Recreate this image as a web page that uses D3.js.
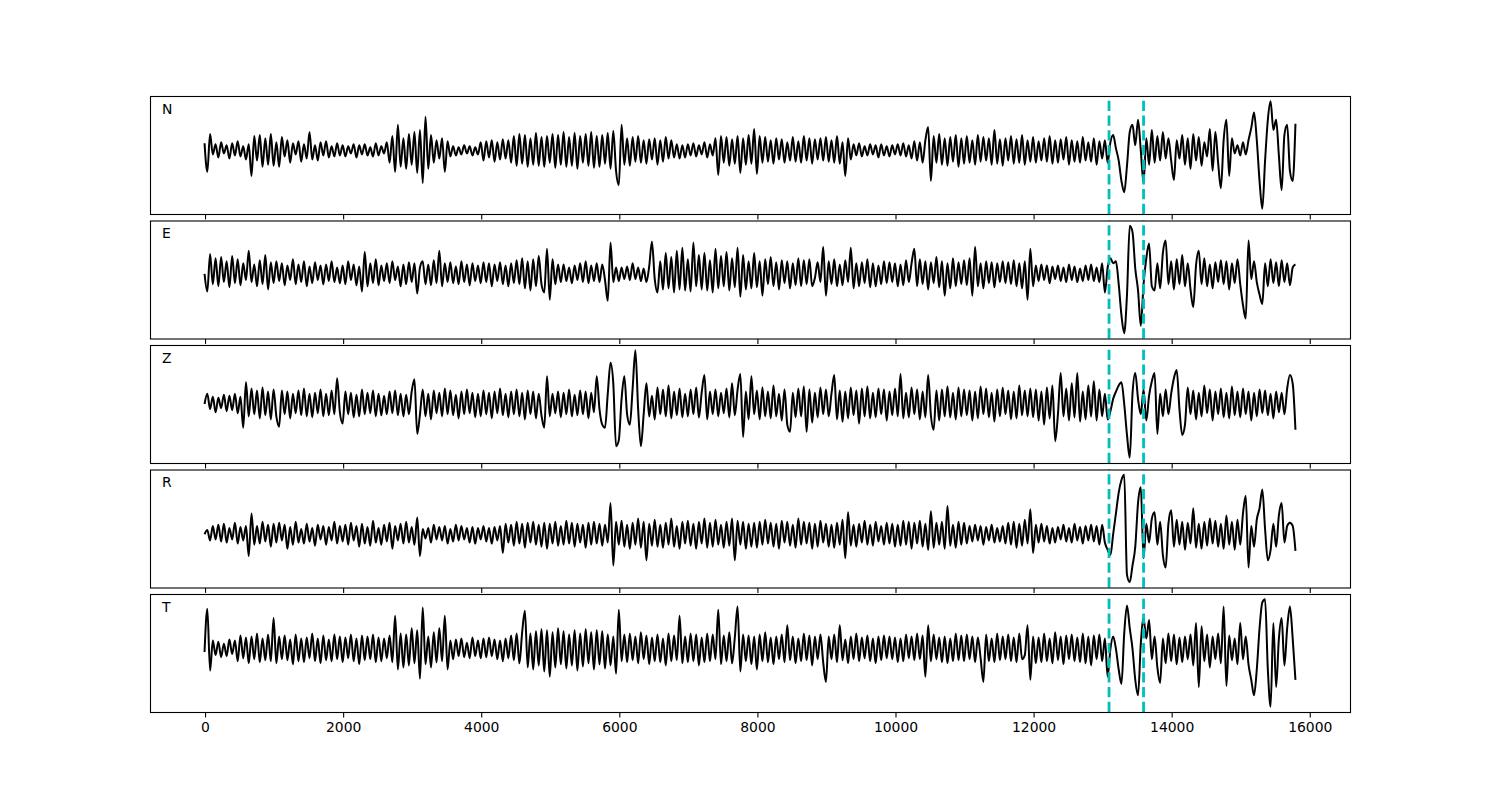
<!DOCTYPE html>
<html>
<head>
<meta charset="utf-8">
<script src="https://cdn.jsdelivr.net/npm/d3@7"></script>
<style>
  html, body { margin: 0; padding: 0; background: #ffffff; }
  svg { display: block; }
</style>
</head>
<body>
<svg id="chart" width="1500" height="800"></svg>
<script>
// ---------------- data ----------------
const channels = ["N", "E", "Z", "R", "T"];
const sampleStep = 40;          // samples between stored values
const markerSamples = [13100, 13600];
const xTickValues = [0, 2000, 4000, 6000, 8000, 10000, 12000, 14000, 16000];

const traceN = [
  7,-21,16,-4,6,-7,8,-3,5,-8,7,-5,9,-6,4,-9,6,-25,14,-10,15,-16,12,-14,16,
  -15,8,-16,13,-6,10,-12,7,-4,9,-11,6,-8,18,-9,5,-10,8,-5,9,-7,4,-6,7,-5,
  5,-6,4,-3,6,-7,5,-4,6,-5,3,-6,7,-5,4,-3,8,-12,14,-21,25,-16,12,-18,16,
  -14,18,-22,20,-32,33,-18,15,-12,10,-8,12,-21,9,-6,4,-5,3,-4,5,-3,4,-5,3,-4,
  8,-10,9,-7,10,-11,8,-9,11,-8,10,-12,14,-15,16,-13,15,-16,12,-14,17,-15,13,-16,14,
  -12,16,-17,15,-14,18,-16,13,-15,17,-18,14,-12,16,-15,18,-17,14,-16,15,-13,17,-18,19,-20,
  -34,25,-14,12,-15,13,-11,14,-12,10,-13,11,-9,12,-14,10,-11,13,-8,10,-7,6,-8,5,-7,
  6,-5,7,-6,5,-4,8,-7,6,-5,12,-24,14,-12,13,-15,11,-13,14,-22,12,-14,15,-13,21,
  -23,14,-12,13,-11,10,-13,12,-9,11,-12,8,-10,13,-11,9,-12,14,-10,12,-13,11,-9,12,-10,
  13,-11,10,-12,14,-13,8,-25,12,-9,6,-5,7,-6,4,-5,6,-4,5,-7,6,-5,4,-6,5,
  -4,6,-5,7,-6,5,-8,9,-10,8,-12,10,23,-30,14,-12,16,-14,12,-15,13,-11,15,-16,12,
  -13,14,-12,10,-14,15,-11,13,-10,12,-14,20,-13,11,-15,12,-10,14,-13,11,-12,15,-14,10,-11,
  13,-12,9,-10,12,-11,14,-13,10,-12,11,-9,13,-14,10,-11,9,-12,13,-10,8,-11,12,-14,9,
  -8,10,-12,8,15,2,-10,-30,-41,-15,18,25,5,30,0,-32,12,-14,20,-12,14,-10,18,-8,12,
  -10,-29,10,-8,15,-14,12,-18,16,-10,13,-15,8,-6,21,-20,18,-12,-37,10,30,-25,12,-3,5,
  -5,8,-4,10,22,37,10,-30,-57,-10,30,48,20,30,-5,-39,15,25,-20,-30,26
];

const traceE = [
  0,-17,19,-10,15,-12,16,-8,12,-13,17,-9,14,-11,10,-6,22,-8,9,-12,13,-10,18,-15,11,
  -9,12,-7,10,-11,8,-6,14,-10,9,-8,12,-12,7,-9,11,-6,8,-10,9,-7,12,-8,6,-9,
  8,-10,12,-6,9,-11,7,-17,21,-12,10,-9,14,-11,8,-7,10,-9,12,-6,7,-12,9,-10,11,
  -8,10,-19,6,12,-10,9,-11,13,-9,22,-12,10,-8,11,-9,7,-10,12,-8,9,-11,10,-7,8,
  -9,11,-8,10,-12,9,-7,11,-10,8,-12,10,-9,13,-10,15,-14,12,-16,14,-12,17,-10,-18,24,
  -25,14,-10,9,-8,9,-7,6,-9,8,-6,10,-8,12,-9,8,-7,10,-8,9,-6,-26,30,-8,6,
  -7,6,-5,7,-6,10,-5,6,-7,5,-8,7,31,-5,-18,12,-15,20,-14,16,-18,22,-15,25,-16,
  14,-17,30,-12,18,-15,20,-16,13,-18,24,-14,17,-12,21,-16,15,-13,25,-22,18,-15,12,-14,20,
  -13,12,-21,14,-10,16,-12,11,-15,13,-9,12,-14,10,-11,15,-12,13,-10,14,-12,-4,11,-8,26,
  -21,12,-10,14,-12,9,-11,13,-8,25,-14,10,-12,11,-9,14,-13,10,-12,8,-10,12,-9,11,-8,
  10,-12,9,-11,13,-8,10,24,-12,14,-10,12,-15,11,-9,16,-13,12,-21,10,-14,15,-12,11,-10,
  13,-11,15,-21,26,-12,10,-14,12,-9,11,-13,10,-8,12,-9,11,-10,13,-12,10,-14,12,-25,24,
  -12,8,-7,9,-6,8,-9,7,-5,8,-7,6,-8,9,-6,7,-8,5,-7,8,-6,9,-7,6,-8,
  10,-18,6,15,10,12,-10,-40,-57,-20,46,40,5,-16,-50,-10,15,29,-12,-16,10,-14,20,32,-10,
  12,-15,14,-10,18,-12,10,-15,-32,8,22,-10,15,-12,9,-14,11,-8,13,-10,12,-15,10,-9,14,
  -10,-30,-43,32,-5,12,-8,-20,-29,10,-12,14,-9,11,-12,13,-8,10,-11,6,9
];

const traceZ = [
  0,10,-5,7,-8,6,-4,9,-7,8,-6,10,-9,7,-23,21,-12,15,-10,13,-14,16,-11,12,-15,
  14,-12,-22,13,-10,12,-14,10,-9,13,-11,15,-12,10,-13,11,-9,14,-12,10,-11,13,-10,25,-8,
  -19,12,-10,11,-13,9,-12,14,-10,11,-9,13,-12,10,-11,8,-10,12,-9,13,-11,10,-12,9,-10,
  12,24,-29,-10,14,-12,10,-15,13,-9,11,-12,15,-10,13,-11,9,-14,12,-10,14,-9,11,-13,10,
  -12,13,-10,11,-14,12,-9,15,-11,10,-13,12,-10,14,-12,11,-15,13,-10,12,-14,10,-11,-23,27,
  -12,10,-9,12,-13,11,-10,14,-12,9,-11,13,-10,12,-14,11,-8,27,-5,-20,-23,10,40,20,-41,
  -35,5,27,-10,-20,15,52,-5,-41,-10,20,-12,8,-15,16,-10,14,-12,18,-14,12,-11,15,-13,10,
  -12,14,-10,16,-13,11,28,-15,12,-10,14,-12,11,-9,15,-13,20,-11,14,29,-32,12,-15,27,-10,
  13,-15,16,-12,12,-14,18,-12,10,-16,14,-20,-27,11,-13,15,-12,17,-27,14,-18,11,-13,16,-10,
  14,-12,10,28,-15,13,-17,12,-14,16,-11,13,-19,15,-12,17,-14,11,-13,15,-10,14,-16,12,-11,
  15,-12,29,-14,11,-13,16,-10,14,-15,12,-13,28,-11,-25,13,-16,14,-12,17,-13,11,-15,16,-12,
  14,-11,13,-16,12,-14,17,-10,15,-13,11,-17,14,-12,16,-10,13,-15,12,-14,18,-11,13,-12,15,
  -13,14,-16,12,-20,16,-14,18,-36,-10,30,-12,15,-16,20,-13,30,-17,12,-15,18,-12,22,-16,14,
  -12,10,-15,-7,5,12,18,21,0,-30,-52,10,30,5,-10,14,-16,8,22,30,-29,10,-12,14,-10,
  10,25,33,-5,-30,-20,16,-10,13,-15,11,-12,18,-9,14,-16,12,-10,15,-13,11,-14,17,-11,12,
  -13,15,-10,12,-16,11,-12,14,-9,13,-11,10,-14,12,-8,11,-10,15,28,20,-25
];

const traceR = [
  0,4,-6,8,-5,9,-7,10,-8,6,-5,11,-9,7,-6,8,-21,20,-10,8,-9,12,-7,9,-12,
  10,-8,11,-6,9,-14,7,-10,12,-8,5,-9,10,-7,6,-11,9,-5,8,-10,7,-6,12,-9,8,
  -7,9,-10,11,-6,8,-12,10,-9,7,-11,13,-8,6,-10,9,-7,11,-14,8,-6,10,-9,12,-8,
  7,-10,16,-21,5,-4,6,-8,9,-5,7,-6,8,-9,5,-7,9,-6,8,-5,6,-8,7,-9,6,
  -5,8,-7,6,-9,7,-6,8,-18,10,-8,9,-11,12,-9,10,-13,11,-8,12,-10,9,-12,11,-14,
  10,-9,12,-11,8,-10,13,-9,11,-12,10,-8,9,-13,11,-10,12,-9,10,-11,9,-8,30,-30,12,
  -10,13,-12,9,-14,11,-10,15,-13,12,-25,10,-11,14,-12,9,-13,11,-10,15,-12,8,-14,12,-9,
  13,-11,10,-14,12,-9,15,-13,11,-12,14,-10,9,-13,12,-11,15,-25,13,-10,12,-14,10,-12,11,
  -13,12,-10,14,-9,11,-12,10,-14,13,-8,12,-11,9,-13,15,-10,12,-9,11,-14,10,-12,13,-8,
  10,-12,9,-13,11,-10,14,-23,21,-11,9,-12,10,-8,13,-10,9,-11,12,-7,8,-10,11,-9,10,
  -12,9,-11,13,-10,12,-14,11,-9,13,-12,10,-15,22,-13,11,-10,12,-14,27,-11,9,-13,12,-10,
  11,-9,8,-7,9,-6,8,-10,7,-6,9,-8,6,-7,8,-9,11,-10,12,-13,10,-11,14,-9,24,
  -18,9,-8,10,-7,8,-9,6,-8,7,-5,9,-7,6,-8,10,-6,7,-9,8,-6,9,-7,8,-10,
  9,-8,-15,-20,0,20,40,52,57,-39,-46,-30,-12,30,45,-23,10,-8,15,21,-10,12,-20,-32,10,
  23,-12,14,-10,12,-15,11,-9,25,-13,10,-14,12,-11,15,-9,13,-12,10,-14,18,-10,12,-15,14,
  -10,20,37,-32,8,-12,14,25,43,5,-25,-15,10,-12,18,30,-8,8,11,8,-16
];

const traceT = [
  -3,39,-21,8,-6,7,-8,5,-7,9,-5,8,-12,13,-9,11,-14,12,-10,15,-13,10,-11,14,-12,
  30,-14,12,-10,13,-11,9,-15,14,-12,10,-13,11,-9,15,-12,10,-14,13,-11,9,-12,14,-10,12,
  -13,11,-9,14,-12,10,-15,13,-11,12,-10,14,-13,11,-12,10,-9,13,-13,32,-20,15,-18,14,-16,
  20,-14,18,-29,40,-15,12,-18,16,-13,20,-12,32,-20,8,-10,9,-7,10,-8,6,-9,11,-7,8,
  -9,10,-8,11,-7,9,-10,8,-12,10,-9,13,-11,15,-14,16,37,-18,15,-20,17,-16,19,-22,18,
  -27,16,-18,20,-15,17,-19,14,-16,18,-21,15,-17,19,-14,16,-20,18,-15,17,-19,14,-16,12,-24,
  38,-12,14,-13,15,-11,12,-14,16,-10,13,-15,11,-12,14,-13,10,-16,15,-12,13,-11,32,-14,12,
  -13,15,-12,14,-16,11,-13,15,-12,14,-10,38,-15,13,-12,16,-14,11,41,-22,14,-12,13,-15,12,
  -20,14,-12,16,-13,11,-15,12,-10,14,-13,23,-11,12,-14,10,-12,15,-11,13,-16,12,-10,14,-13,
  -32,12,-10,14,-13,23,-11,9,-14,12,-10,15,-12,11,-9,13,-12,10,-14,12,-11,13,-9,12,-10,
  11,-13,10,-12,14,-9,12,-11,15,-10,13,-27,23,-12,14,-10,11,-13,12,-14,10,-12,15,-11,13,
  -12,14,-10,12,-13,11,-9,-32,14,-12,10,-13,15,-11,12,-10,14,-12,11,-13,15,-10,-6,23,-30,
  12,-14,11,-13,15,-12,10,-14,16,-11,12,-15,13,-10,14,-12,11,-13,15,-14,12,-16,13,-10,14,
  -12,10,-27,0,12,0,-20,-34,15,42,20,0,-30,-45,5,30,10,28,-10,12,-18,-33,10,-14,15,
  -12,14,-15,11,-13,12,-10,14,-16,25,-37,22,-12,14,-18,12,-10,15,-14,41,-36,13,-11,10,-15,
  25,-10,12,-15,-30,-45,-20,20,45,48,-20,-56,25,-37,10,30,-16,20,41,10,-30
];

const traces = [traceN, traceE, traceZ, traceR, traceT];

// ---------------- layout ----------------
(function draw() {
  const W = 1500, H = 800;
  const plotLeft = 150, plotRight = 1350, plotTop = 96;
  const panelH = 118, gap = 6.5;
  const font = "'DejaVu Sans', sans-serif";

  const svg = d3.select("#chart");
  svg.append("rect").attr("width", W).attr("height", H).attr("fill", "#fff");

  const nMax = d3.max(traces, tr => (tr.length - 1) * sampleStep);
  const xPad = nMax * 0.05;
  const x = d3.scaleLinear().domain([-xPad, nMax + xPad]).range([plotLeft, plotRight]);

  traces.forEach((tr, i) => {
    const y0 = plotTop + i * (panelH + gap);
    const g = svg.append("g");
    const lo = d3.min(tr), hi = d3.max(tr), span = hi - lo;
    const y = d3.scaleLinear()
      .domain([lo - 0.05 * span, hi + 0.05 * span])
      .range([y0 + panelH, y0]);

    const clipId = "clip" + i;
    svg.append("clipPath").attr("id", clipId)
      .append("rect").attr("x", plotLeft).attr("y", y0)
      .attr("width", plotRight - plotLeft).attr("height", panelH);

    const line = d3.line()
      .x((d, k) => x(k * sampleStep))
      .y(d => y(d))
      .curve(d3.curveMonotoneX);

    g.append("path")
      .datum(tr)
      .attr("clip-path", `url(#${clipId})`)
      .attr("d", line)
      .attr("fill", "none")
      .attr("stroke", "#000")
      .attr("stroke-width", 2)
      .attr("stroke-linejoin", "round");

    // vertical markers
    markerSamples.forEach(m => {
      g.append("line")
        .attr("x1", x(m)).attr("x2", x(m))
        .attr("y1", y0 + panelH).attr("y2", y0)
        .attr("stroke", "#00bfbf")
        .attr("stroke-width", 2.8)
        .attr("stroke-dasharray", "10.3,4.4");
    });

    // frame
    g.append("rect")
      .attr("x", plotLeft + 0.5).attr("y", y0 + 0.5)
      .attr("width", plotRight - plotLeft).attr("height", panelH)
      .attr("fill", "none").attr("stroke", "#000").attr("stroke-width", 1.1);

    // x axis ticks
    const axis = d3.axisBottom(x).tickValues(xTickValues).tickSize(4.9).tickPadding(4.9);
    if (i < traces.length - 1) axis.tickFormat("");
    else axis.tickFormat(d3.format("d"));
    const ax = g.append("g")
      .attr("transform", `translate(0.5,${y0 + panelH + 0.5})`)
      .call(axis);
    ax.select(".domain").remove();
    ax.selectAll(".tick line").attr("stroke", "#000").attr("stroke-width", 1.1);
    ax.selectAll(".tick text")
      .attr("fill", "#000")
      .style("font-family", font)
      .style("font-size", "13.9px");

    // channel label
    g.append("text")
      .attr("x", plotLeft + 12)
      .attr("y", y0 + 17.5)
      .style("font-family", font)
      .style("font-size", "13.9px")
      .attr("fill", "#000")
      .text(channels[i]);
  });
})();
</script>
</body>
</html>
